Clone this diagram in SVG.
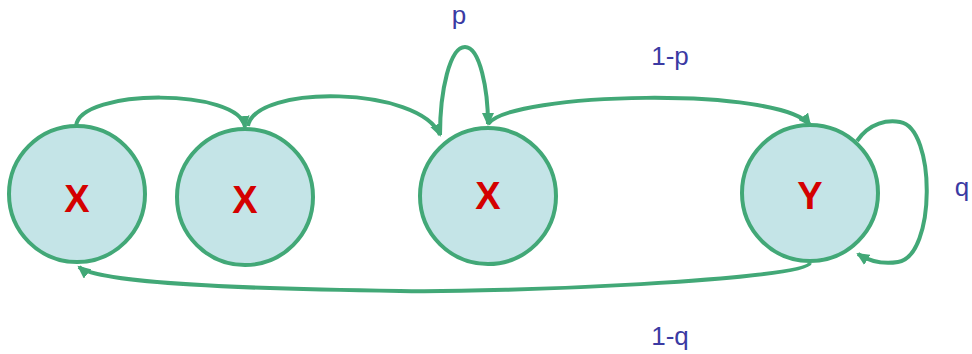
<svg xmlns="http://www.w3.org/2000/svg" width="972" height="354" viewBox="0 0 972 354">
<style>
.node{fill:#c4e4e7;stroke:#42a877;stroke-width:4}
.nl{font-family:"Liberation Sans",Arial,sans-serif;font-size:38px;font-weight:bold;fill:#d40000;text-anchor:middle}
.el{font-family:"Liberation Sans",Arial,sans-serif;font-size:26px;fill:#3b3aa3;text-anchor:middle}
.edge{fill:none;stroke:#42a877;stroke-width:4;marker-end:url(#ah)}
</style>
<defs>
<marker id="ah" markerUnits="userSpaceOnUse" markerWidth="14" markerHeight="12" refX="11" refY="6" orient="auto">
<path d="M0,0 L13,6 L0,12 z" fill="#42a877"/>
</marker>
</defs>
<g id="connectors">
<path class="edge" d="M76 126 C80 88, 240 88, 245 127"/>
<path class="edge" d="M248 126 C255 84, 420 86, 440 135"/>
<path class="edge" d="M440 135 C440 90, 450 47, 465 47 C480 47, 488 90, 488 124"/>
<path class="edge" d="M488 124 C510 92, 780 86, 810 125"/>
<path class="edge" d="M857 141 C870 122, 888 120, 900 122 C936 128, 936 256, 898 262 C880 265, 866 259, 858 254"/>
<path class="edge" d="M810 263 C805 280, 500 293, 400 291 C250 289, 100 284, 79 267"/>
</g>
<g id="n1"><circle class="node" cx="77" cy="194" r="68"/><text class="nl" x="77" y="212">X</text></g>
<g id="n2"><circle class="node" cx="245" cy="197" r="68"/><text class="nl" x="245" y="213">X</text></g>
<g id="n3"><circle class="node" cx="488" cy="196" r="68"/><text class="nl" x="488" y="209">X</text></g>
<g id="n4"><circle class="node" cx="810" cy="193" r="68"/><text class="nl" x="810" y="209">Y</text></g>
<g id="labels">
<text class="el" x="459" y="24">p</text>
<text class="el" x="670" y="65">1-p</text>
<text class="el" x="962" y="196">q</text>
<text class="el" x="670" y="345">1-q</text>
</g>
</svg>
